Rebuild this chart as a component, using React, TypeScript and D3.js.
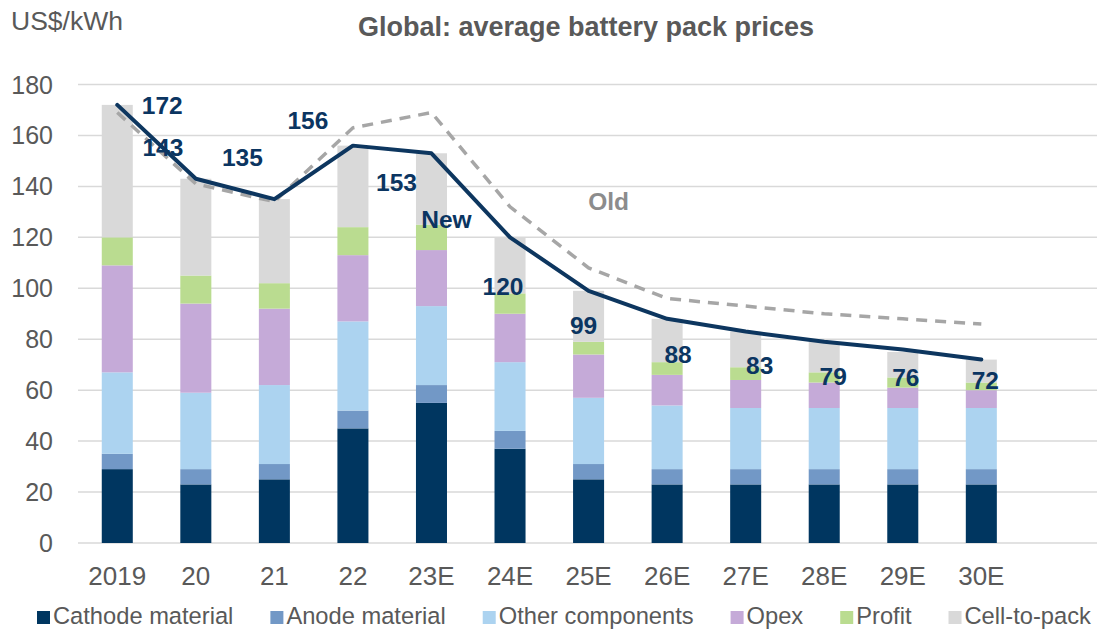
import React, { useEffect, useRef } from "react";
import * as d3 from "d3";

// Global average battery pack prices, US$/kWh
const YEARS = ["2019", "20", "21", "22", "23E", "24E", "25E", "26E", "27E", "28E", "29E", "30E"];
const CATHODE = [29, 23, 25, 45, 55, 37, 25, 23, 23, 23, 23, 23];
const ANODE = [6, 6, 6, 7, 7, 7, 6, 6, 6, 6, 6, 6];
const OTHER = [32, 30, 31, 35, 31, 27, 26, 25, 24, 24, 24, 24];
const OPEX = [42, 35, 30, 26, 22, 19, 17, 12, 11, 10, 8, 7];
const PROFIT = [11, 11, 10, 11, 10, 8, 5, 5, 5, 4, 4, 3];
const CELL_TO_PACK = [52, 38, 33, 32, 28, 22, 20, 17, 14, 12, 10, 9];
const NEW_FORECAST = [172, 143, 135, 156, 153, 120, 99, 88, 83, 79, 76, 72];
const OLD_FORECAST = [169, 141, 134, 163, 169, 132, 108, 96, 93, 90, 88, 86];
const Y_TICKS = [0, 20, 40, 60, 80, 100, 120, 140, 160, 180];

const SERIES = [
  { name: "Cathode material", values: CATHODE, color: "#003660" },
  { name: "Anode material", values: ANODE, color: "#7298c6" },
  { name: "Other components", values: OTHER, color: "#acd3f0" },
  { name: "Opex", values: OPEX, color: "#c5aad8" },
  { name: "Profit", values: PROFIT, color: "#badc90" },
  { name: "Cell-to-pack", values: CELL_TO_PACK, color: "#d9d9d9" },
];

// where Excel put each value label, relative to its point (px)
const LABEL_OFFSETS = [
  [45, 0], [-33, -32], [-32, -42], [-45, -25], [-35, 29], [-7, 49],
  [-5, 34], [11, 35], [14, 34], [9, 34], [3, 28], [4, 21],
];

export default function App() {
  const svgRef = useRef<SVGSVGElement>(null);

  useEffect(() => {
    document.body.style.margin = "0";
    const width = 1097;
    const height = 633;
    const font = "'Liberation Sans', Arial, sans-serif";
    const navy = "#0b3561";
    const grey = "#595959";
    const gridColor = "#d9d9d9";

    const svg = d3.select(svgRef.current);
    svg.selectAll("*").remove();
    svg.attr("width", width).attr("height", height).style("font-family", font);

    const x = d3.scaleBand<string>()
      .domain(YEARS)
      .range([78, 1020.6])
      .paddingInner(0.605)
      .paddingOuter(0.3025);

    const y = d3.scaleLinear().domain([0, 180]).range([543, 84.5]);
    const cx = (i: number) => (x(YEARS[i]) as number) + x.bandwidth() / 2;

    // Grid lines
    svg.append("g")
      .selectAll("line")
      .data(Y_TICKS)
      .join("line")
      .attr("x1", 78).attr("x2", width)
      .attr("y1", d => y(d)).attr("y2", d => y(d))
      .attr("stroke", gridColor).attr("stroke-width", 1.5);

    // Y tick labels
    svg.append("g")
      .selectAll("text")
      .data(Y_TICKS)
      .join("text")
      .attr("x", 53).attr("y", d => y(d))
      .attr("dy", "0.36em")
      .attr("text-anchor", "end")
      .attr("fill", grey)
      .style("font-size", "25px")
      .text(d => d);

    // X tick labels
    svg.append("g")
      .selectAll("text")
      .data(YEARS)
      .join("text")
      .attr("x", (d, i) => cx(i)).attr("y", 585)
      .attr("text-anchor", "middle")
      .attr("fill", grey)
      .style("font-size", "26px")
      .text(d => d);

    // Stacked bars
    const rows = YEARS.map((yr, i) => {
      const r: any = { year: yr };
      SERIES.forEach(s => { r[s.name] = s.values[i]; });
      return r;
    });
    const stacked = d3.stack<any>().keys(SERIES.map(s => s.name))(rows);

    svg.append("g")
      .selectAll("g")
      .data(stacked)
      .join("g")
      .attr("fill", (d, i) => SERIES[i].color)
      .selectAll("rect")
      .data(d => d)
      .join("rect")
      .attr("x", d => x(d.data.year) as number)
      .attr("width", x.bandwidth())
      .attr("y", d => y(d[1]))
      .attr("height", d => y(d[0]) - y(d[1]));

    // Old forecast (dashed)
    const line = d3.line<number>()
      .x((d, i) => cx(i))
      .y(d => y(d));

    svg.append("path")
      .datum(OLD_FORECAST)
      .attr("d", line)
      .attr("fill", "none")
      .attr("stroke", "#a6a6a6")
      .attr("stroke-width", 3.5)
      .attr("stroke-dasharray", "11,8");

    // New forecast
    svg.append("path")
      .datum(NEW_FORECAST)
      .attr("d", line)
      .attr("fill", "none")
      .attr("stroke", "#0d365f")
      .attr("stroke-width", 4)
      .attr("stroke-linejoin", "round")
      .attr("stroke-linecap", "round");

    // Value labels
    svg.append("g")
      .selectAll("text")
      .data(NEW_FORECAST)
      .join("text")
      .attr("x", (d, i) => cx(i) + LABEL_OFFSETS[i][0])
      .attr("y", (d, i) => y(d) + LABEL_OFFSETS[i][1])
      .attr("dy", "0.36em")
      .attr("text-anchor", "middle")
      .attr("fill", navy)
      .style("font-size", "24.5px").style("font-weight", 700)
      .text(d => d);

    // Series annotations
    svg.append("text")
      .attr("x", cx(4) + 15).attr("y", y(NEW_FORECAST[4]) + 66)
      .attr("dy", "0.36em")
      .attr("text-anchor", "middle")
      .attr("fill", navy)
      .style("font-size", "24.5px").style("font-weight", 700)
      .text("New");

    svg.append("text")
      .attr("x", cx(6) + 20).attr("y", y(OLD_FORECAST[6]) - 67)
      .attr("dy", "0.36em")
      .attr("text-anchor", "middle")
      .attr("fill", "#8c8c8c")
      .style("font-size", "24.5px").style("font-weight", 700)
      .text("Old");

    // Title and unit
    svg.append("text")
      .attr("x", 586).attr("y", 36)
      .attr("text-anchor", "middle")
      .attr("fill", grey)
      .style("font-size", "27px").style("font-weight", 700)
      .text("Global: average battery pack prices");

    svg.append("text")
      .attr("x", 11).attr("y", 30)
      .attr("fill", grey)
      .style("font-size", "26.5px")
      .text("US$/kWh");

    // Legend
    const legend = svg.append("g").attr("transform", "translate(37,624)");
    let lx = 0;
    SERIES.forEach(s => {
      const item = legend.append("g").attr("transform", `translate(${lx},0)`);
      item.append("rect")
        .attr("x", 0).attr("y", -13)
        .attr("width", 13).attr("height", 13)
        .attr("fill", s.color);
      const t = item.append("text")
        .attr("x", 16).attr("y", 0)
        .attr("fill", grey)
        .style("font-size", "23.7px")
        .text(s.name);
      const w = (t.node() as SVGTextElement).getComputedTextLength();
      lx += 16 + w + 37;
    });
  }, []);

  return <svg ref={svgRef} />;
}
